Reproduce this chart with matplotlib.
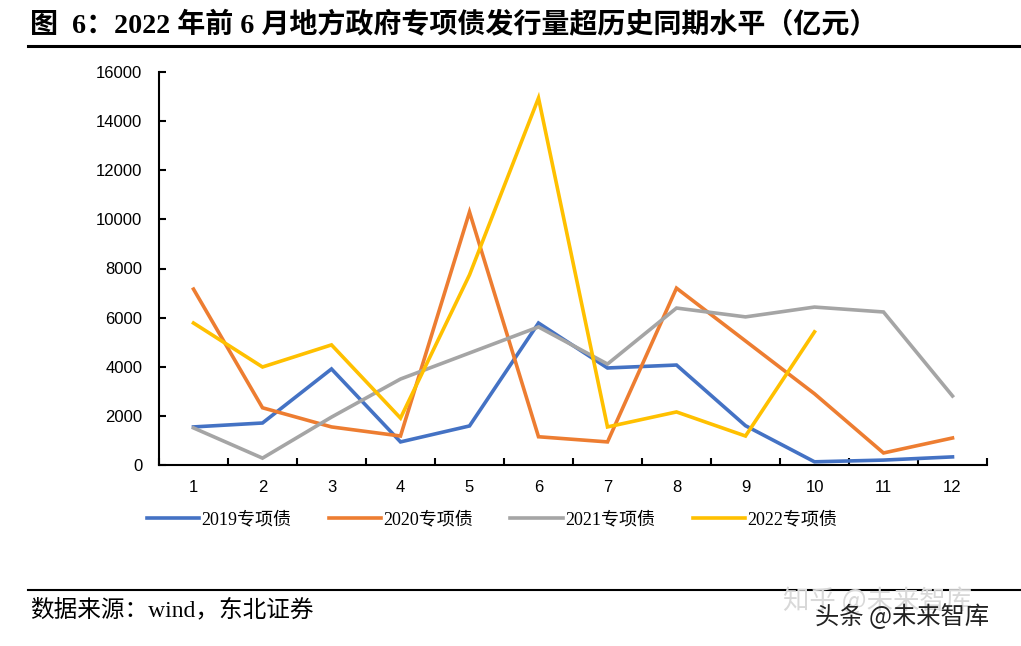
import matplotlib
matplotlib.use("Agg")
import matplotlib.pyplot as plt
from matplotlib.lines import Line2D

plt.rcParams['font.family'] = ['Liberation Serif', 'Noto Sans CJK SC', 'DejaVu Sans']

months = [1, 2, 3, 4, 5, 6, 7, 8, 9, 10, 11, 12]
month_labels = ['1', '2', '3', '4', '5', '6', '7', '8', '9', '10', '11', '12']
s2019 = [1550, 1710, 3910, 940, 1590, 5780, 3950, 4070, 1600, 130, 200, 330]
s2020 = [7160, 2330, 1550, 1180, 10300, 1150, 940, 7200, 5050, 2900, 490, 1100]
s2021 = [1510, 280, 1950, 3500, 4560, 5620, 4110, 6390, 6030, 6430, 6230, 2810]
s2022 = [5780, 3990, 4890, 1910, 7740, 14940, 1550, 2160, 1180, 5420]
series_names = ['2019专项债', '2020专项债', '2021专项债', '2022专项债']
colors = ['#4472C4', '#ED7D31', '#A5A5A5', '#FFC000']
yticks = [0, 2000, 4000, 6000, 8000, 10000, 12000, 14000, 16000]

title = '图  6：2022 年前 6 月地方政府专项债发行量超历史同期水平（亿元）'
source = '数据来源：wind，东北证券'

fig = plt.figure(figsize=(10.21, 6.46), dpi=100)
ax = fig.add_axes([159/1021, 1-465/646, (987-159)/1021, (465-72)/646])

all_series = [s2019, s2020, s2021, s2022]
handles = []
for vals, c, name in zip(all_series, colors, series_names):
    h, = ax.plot(months[:len(vals)], vals, color=c, lw=2.6, solid_joinstyle='miter', label=name)
    handles.append(h)

ax.set_xlim(0.5, 12.5)
ax.set_ylim(0, 16000)
ax.set_yticks(yticks)
ax.set_yticklabels([str(v) for v in yticks], family=['Liberation Sans'], fontsize=12)
ax.set_xticks([i + 0.5 for i in range(0, 13)])
ax.set_xticklabels([])
ax.set_xticks(months, minor=True)
ax.set_xticklabels(month_labels, minor=True, family=['Liberation Sans'], fontsize=12)
ax.tick_params(axis='x', which='major', direction='in', length=5, width=1.5)
ax.tick_params(axis='x', which='minor', length=0, pad=11)
ax.tick_params(axis='y', direction='in', length=5, width=1.5, pad=12)
for s in ['top', 'right']:
    ax.spines[s].set_visible(False)
for s in ['left', 'bottom']:
    ax.spines[s].set_linewidth(1.5)

leg = fig.legend(handles=handles, loc='center', bbox_to_anchor=(492/1021, 1-520/646), ncol=4,
                 frameon=False, fontsize=13, handlelength=2.9, handletextpad=0.15,
                 columnspacing=2.05)

fig.text(30/1021, 1-26/646, title, fontsize=20.2, fontweight='bold', va='center', ha='left')
fig.add_artist(Line2D([28/1021, 1.0], [1-46/646, 1-46/646], color='black', lw=2.2))
fig.add_artist(Line2D([28/1021, 1.0], [1-590/646, 1-590/646], color='black', lw=1.5))
fig.text(30/1021, 1-610/646, source, fontsize=17, va='center', ha='left')
fig.text(783/1021, 1-601/646, '知乎 @未来智库', fontsize=19, color='#d8d8d8', va='center', ha='left',
         family=['Noto Sans CJK SC'])
fig.text(815/1021, 1-617/646, '头条 @未来智库', fontsize=17.5, color='#222222', va='center', ha='left',
         family=['Noto Sans CJK SC'])

fig.savefig('out.png', dpi=100)
